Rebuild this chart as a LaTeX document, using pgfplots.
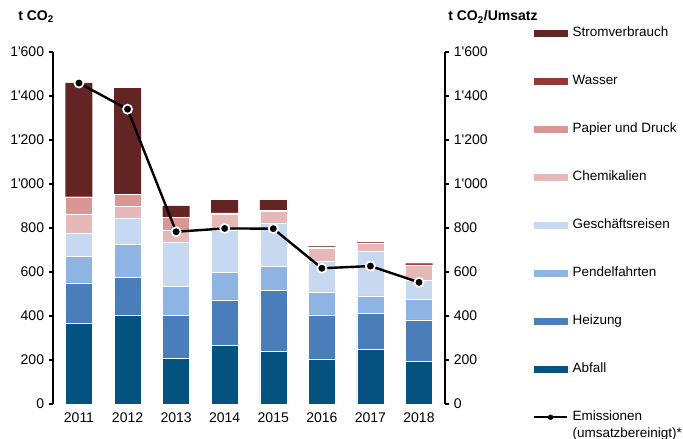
\documentclass[border=0pt]{standalone}
\usepackage{fontspec}
\setmainfont{Liberation Sans}
\usepackage{pgfplots}
\pgfplotsset{compat=1.18}
\definecolor{cStrom}{HTML}{632523}
\definecolor{cWasser}{HTML}{953735}
\definecolor{cPapier}{HTML}{D99694}
\definecolor{cChem}{HTML}{E6B9B8}
\definecolor{cGesch}{HTML}{C6D9F1}
\definecolor{cPendel}{HTML}{8EB4E3}
\definecolor{cHeiz}{HTML}{4A7EBB}
\definecolor{cAbfall}{HTML}{03527F}
\pgfplotsset{swatch/.style={legend image code/.code={\fill[#1] (0pt,-2.1pt) rectangle (24.5pt,2.1pt);}}}
\begin{document}
\fontsize{10.5}{12.5}\selectfont
\begin{tikzpicture}
\useasboundingbox (-39.75pt,-26.25pt) rectangle (472.5pt,303pt);
\begin{axis}[
  at={(0pt,0pt)}, anchor=south west,
  scale only axis, width=294pt, height=264pt,
  xmin=2010.465, xmax=2018.535,
  ymin=0, ymax=1600,
  ybar stacked, bar width=20.25pt,
  axis y line*=left, axis x line*=bottom,
  x axis line style={draw=none},
  xtick={2011,2012,2013,2014,2015,2016,2017,2018},
  xticklabels={2011,2012,2013,2014,2015,2016,2017,2018},
  xtick style={draw=none},
  ytick={0,200,...,1600},
  yticklabel style={/pgf/number format/1000 sep={\textquotesingle}, /pgf/number format/assume math mode=true},
  tick align=outside, major tick length=3pt,
  ytick style={black, line width=0.8pt},
  axis line style={black, line width=0.8pt},
  tick label style={font=\fontsize{10.5}{12.5}\selectfont},
  legend style={at={(1.2245,1.0729)}, anchor=north west, draw=none, fill=none,
    inner sep=0pt, row sep=26pt, column sep=3.5pt,
    nodes={inner sep=0pt, text height=7.5pt, text depth=2.5pt},
    font=\fontsize{10.1}{12.5}\selectfont},
  legend cell align=left,
]
\addplot[fill=cAbfall, draw=white, line width=0.4pt, forget plot] coordinates {(2011,368) (2012,405) (2013,208) (2014,268) (2015,238) (2016,205) (2017,248) (2018,195)};
\addplot[fill=cHeiz, draw=white, line width=0.4pt, forget plot] coordinates {(2011,182) (2012,171) (2013,195) (2014,205) (2015,280) (2016,200) (2017,164) (2018,187)};
\addplot[fill=cPendel, draw=white, line width=0.4pt, forget plot] coordinates {(2011,120) (2012,149) (2013,130) (2014,124) (2015,106) (2016,105) (2017,79) (2018,95)};
\addplot[fill=cGesch, draw=white, line width=0.4pt, forget plot] coordinates {(2011,105) (2012,117) (2013,200) (2014,194) (2015,197) (2016,137) (2017,201) (2018,84)};
\addplot[fill=cChem, draw=white, line width=0.4pt, forget plot] coordinates {(2011,89) (2012,55) (2013,58) (2014,70) (2015,55) (2016,62) (2017,38) (2018,70)};
\addplot[fill=cPapier, draw=white, line width=0.4pt, forget plot] coordinates {(2011,76) (2012,55) (2013,57) (2014,6) (2015,3) (2016,2) (2017,1) (2018,1)};
\addplot[fill=cWasser, draw=none, forget plot] coordinates {(2011,3) (2012,3) (2013,3) (2014,5) (2015,3) (2016,4) (2017,3) (2018,4)};
\addplot[fill=cStrom, draw=none, forget plot] coordinates {(2011,517) (2012,481) (2013,49) (2014,55) (2015,45) (2016,3) (2017,2) (2018,3)};
\addlegendimage{swatch=cStrom}\addlegendentry{Stromverbrauch}
\addlegendimage{swatch=cWasser}\addlegendentry{Wasser}
\addlegendimage{swatch=cPapier}\addlegendentry{Papier und Druck}
\addlegendimage{swatch=cChem}\addlegendentry{Chemikalien}
\addlegendimage{swatch=cGesch}\addlegendentry{Geschäftsreisen}
\addlegendimage{swatch=cPendel}\addlegendentry{Pendelfahrten}
\addlegendimage{swatch=cHeiz}\addlegendentry{Heizung}
\addlegendimage{swatch=cAbfall}\addlegendentry{Abfall}
\addlegendimage{legend image code/.code={\draw[black, line width=1.5pt] (0pt,0pt) -- (24.5pt,0pt); \fill[black] (12.25pt,0pt) circle (1.8pt);}}
\addlegendentry{\begin{tabular}[t]{@{}l@{}}Emissionen\\(umsatzbereinigt)*\end{tabular}}
\end{axis}
\begin{axis}[
  at={(0pt,0pt)}, anchor=south west,
  scale only axis, width=294pt, height=264pt,
  xmin=2010.465, xmax=2018.535,
  ymin=0, ymax=1600,
  axis y line*=right, axis x line=none,
  ytick={0,200,...,1600},
  yticklabel style={/pgf/number format/1000 sep={\textquotesingle}, /pgf/number format/assume math mode=true},
  tick align=outside, major tick length=3pt,
  ytick style={black, line width=0.8pt},
  axis line style={black, line width=0.8pt},
  tick label style={font=\fontsize{10.5}{12.5}\selectfont},
]
\addplot[black, line width=1.8pt, mark=*, mark size=3.4pt, mark options={fill=black, draw=white, line width=1.3pt}] coordinates {(2011,1459) (2012,1340) (2013,783) (2014,798) (2015,797) (2016,617) (2017,627) (2018,553)};
\end{axis}
\node[anchor=west, font=\bfseries\fontsize{10.5}{12.5}\selectfont, inner sep=0pt] at (-26.25pt,290.25pt) {t CO\textsubscript{2}};
\node[anchor=west, font=\bfseries\fontsize{10.5}{12.5}\selectfont, inner sep=0pt] at (296.25pt,290.25pt) {t CO\textsubscript{2}/Umsatz};
\end{tikzpicture}
\end{document}
